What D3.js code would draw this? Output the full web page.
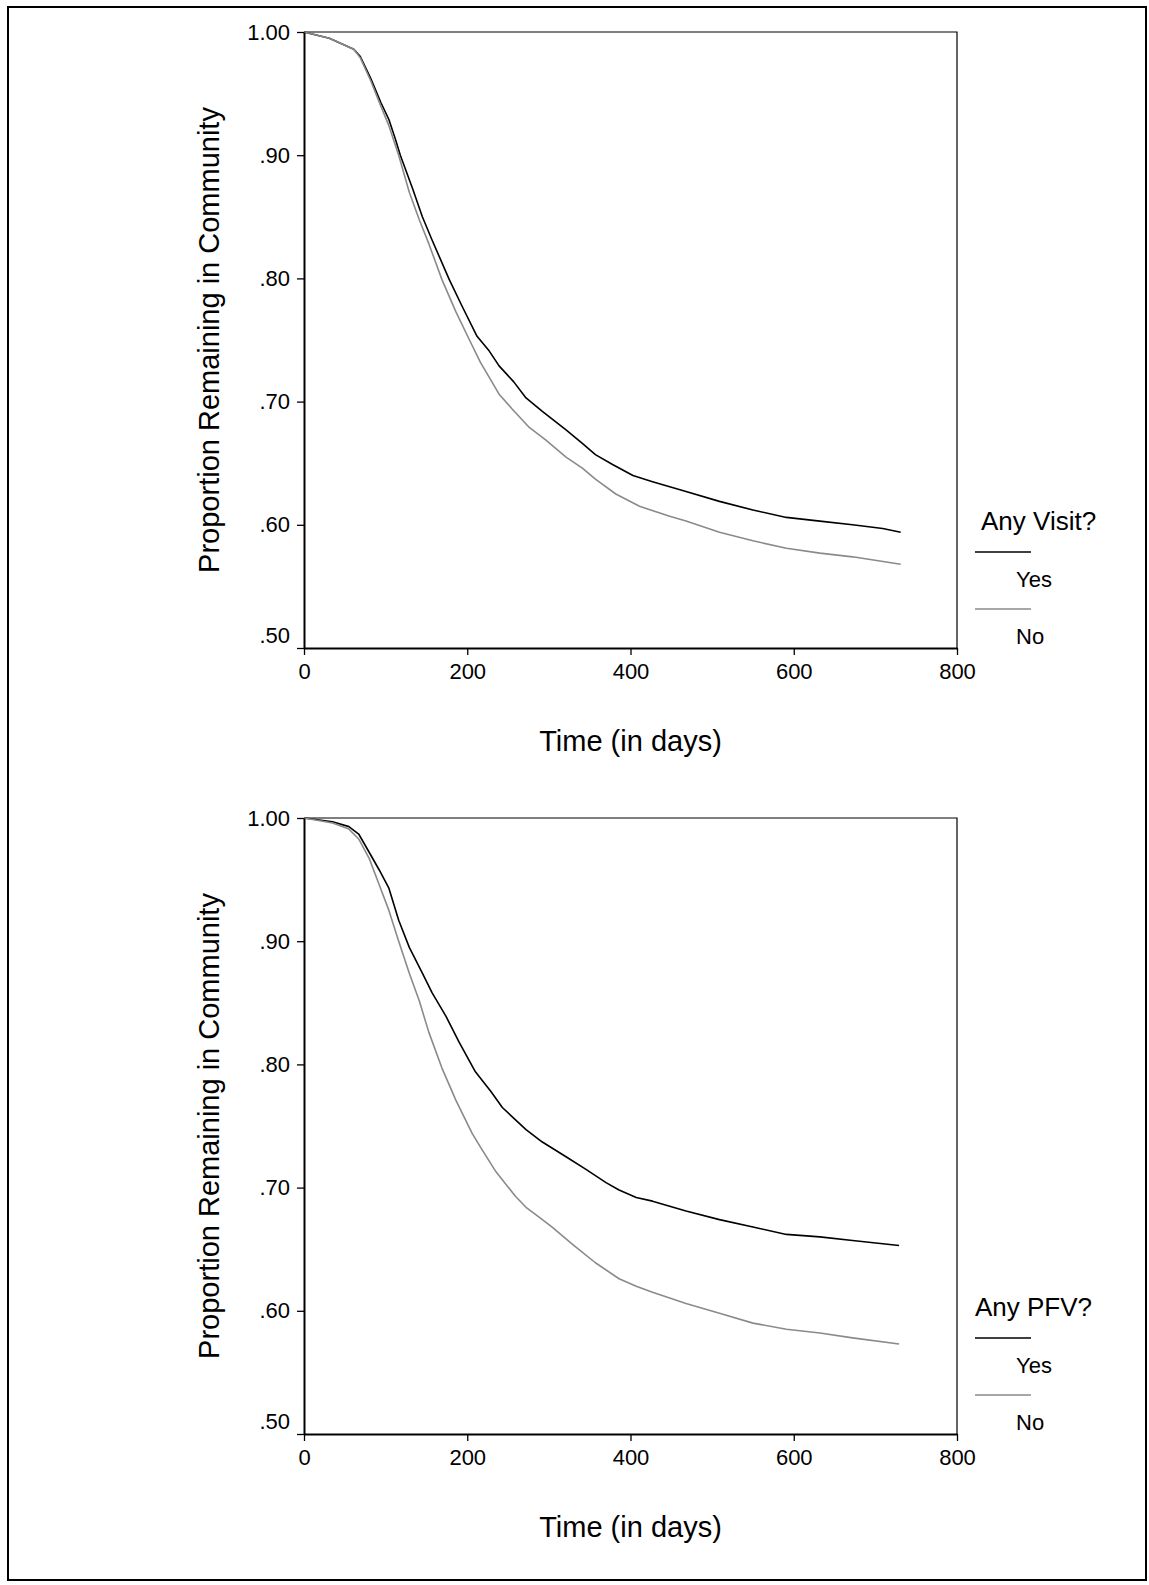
<!DOCTYPE html>
<html>
<head>
<meta charset="utf-8">
<script src="https://cdn.jsdelivr.net/npm/d3@7"></script>
<style>
  body { margin: 0; background: #fff; }
  svg { display: block; font-family: "Liberation Sans", Arial, sans-serif; }
  .line { fill: none; stroke-width: 1.6px; stroke-linejoin: round; }
  .axis path, .axis line { stroke: #000; }
  .axis text { font-size: 22px; fill: #000; font-family: "Liberation Sans", Arial, sans-serif; }
</style>
</head>
<body>
<script>

// tick labels
var xTicks = [0, 200, 400, 600, 800];
var yTicks = [0.5, 0.6, 0.7, 0.8, 0.9, 1.0];
var xTitle = "Time (in days)";
var yTitle = "Proportion Remaining in Community";
var groupLabels = ["Yes", "No"];

// panel 1 : Any Visit?
var visitTitle = "Any Visit?";
var visitYesDays = [0, 31, 61, 69, 82, 94, 104, 112, 118, 133, 145, 157, 178, 194, 212, 227, 239, 257, 272, 292, 321, 341, 357, 378, 403, 427, 468, 509, 550, 591, 632, 672, 709, 731];
var visitYes     = [1.000, .995, .986, .980, .962, .943, .929, .913, .900, .873, .850, .831, .799, .777, .753, .741, .729, .716, .703, .692, .677, .666, .657, .649, .640, .635, .627, .619, .612, .606, .603, .600, .597, .594];
var visitNoDays  = [0, 31, 61, 69, 82, 94, 104, 116, 129, 141, 153, 169, 186, 202, 216, 239, 255, 276, 296, 321, 341, 357, 382, 411, 448, 468, 509, 550, 591, 632, 672, 731];
var visitNo      = [1.000, .995, .986, .979, .960, .940, .924, .900, .870, .848, .828, .799, .773, .751, .732, .706, .694, .679, .669, .655, .646, .637, .625, .615, .607, .603, .594, .587, .581, .577, .574, .568];

// panel 2 : Any PFV?
var pfvTitle = "Any PFV?";
var pfvYesDays = [0, 35, 55, 67, 80, 92, 104, 116, 129, 145, 157, 174, 190, 210, 229, 243, 272, 292, 321, 345, 370, 386, 407, 427, 468, 509, 550, 591, 632, 672, 729];
var pfvYes     = [1.000, .997, .993, .987, .972, .958, .943, .917, .895, .874, .858, .839, .818, .794, .778, .765, .747, .737, .725, .715, .704, .698, .692, .689, .681, .674, .668, .662, .660, .657, .653];
var pfvNoDays  = [0, 35, 55, 67, 80, 92, 104, 116, 129, 141, 153, 169, 186, 206, 216, 235, 259, 272, 288, 304, 329, 357, 386, 407, 427, 468, 509, 550, 591, 632, 672, 729];
var pfvNo      = [1.000, .996, .991, .983, .967, .946, .925, .900, .874, .852, .826, .797, .771, .744, .733, .713, .693, .684, .676, .668, .654, .639, .626, .620, .615, .606, .598, .590, .585, .582, .578, .573];

var colors = ["#000000", "#8a8a8a"];

var W = 1149, H = 1585;
var margin = { top: 32, left: 304 },
    width = 653,
    height = 616,
    panelStep = 786;

var svg = d3.select("body").append("svg")
    .attr("width", W)
    .attr("height", H);

// outer frame
svg.append("rect")
    .attr("x", 8).attr("y", 7)
    .attr("width", 1138).attr("height", 1573)
    .attr("fill", "none")
    .attr("stroke", "#000")
    .attr("stroke-width", 2);

// set the ranges
var x = d3.scaleLinear().domain([0, 800]).range([0, width]);
var y = d3.scaleLinear().domain([0.5, 1.0]).range([height, 0]);

var valueline = d3.line()
    .x(function(d) { return x(d.day); })
    .y(function(d) { return y(d.p); });

function zip(days, vals) {
  return days.map(function(d, i) { return { day: d, p: vals[i] }; });
}

var yFormat = function(d) {
  return d === 1 ? "1.00" : d3.format(".2f")(d).replace(/^0/, "");
};

function drawPanel(offset, title, titleX, series) {
  var g = svg.append("g")
      .attr("transform", "translate(" + margin.left + "," + (margin.top + offset) + ")");

  // top and right of the frame
  g.append("path")
      .attr("d", "M0,0H" + width + "V" + height)
      .attr("fill", "none")
      .attr("stroke", "#000")
      .attr("stroke-width", 1.2);

  // curves
  series.forEach(function(s, i) {
    g.append("path")
        .data([s])
        .attr("class", "line")
        .style("stroke", colors[i])
        .attr("d", valueline);
  });

  // X axis
  var xa = g.append("g")
      .attr("class", "axis")
      .attr("transform", "translate(0," + height + ")")
      .call(d3.axisBottom(x).tickValues(xTicks).tickSize(7).tickPadding(8).tickSizeOuter(0));
  xa.select(".domain").attr("stroke-width", 2);
  xa.selectAll(".tick line").attr("stroke-width", 1.3);

  // Y axis
  var ya = g.append("g")
      .attr("class", "axis")
      .call(d3.axisLeft(y).tickValues(yTicks).tickFormat(yFormat).tickSize(7).tickPadding(7).tickSizeOuter(0));
  ya.select(".domain").attr("stroke-width", 2);
  ya.selectAll(".tick line").attr("stroke-width", 1.3);
  ya.selectAll(".tick text")
      .filter(function(d) { return d === 0.5; })
      .attr("dy", "-0.27em");

  // axis titles
  g.append("text")
      .attr("x", width / 2)
      .attr("y", height + 103)
      .attr("text-anchor", "middle")
      .style("font-size", "29px")
      .text(xTitle);

  g.append("text")
      .attr("transform", "translate(" + (219 - margin.left) + "," + (height / 2) + ") rotate(-90)")
      .attr("text-anchor", "middle")
      .style("font-size", "29px")
      .text(yTitle);

  // legend
  var lg = g.append("g").attr("transform", "translate(" + width + ",0)");
  lg.append("text")
      .attr("x", titleX)
      .attr("y", 498)
      .style("font-size", "26px")
      .text(title);

  groupLabels.forEach(function(lab, i) {
    var ly = 520 + i * 57;
    lg.append("line")
        .attr("x1", 18).attr("x2", 74)
        .attr("y1", ly).attr("y2", ly)
        .attr("stroke", colors[i])
        .attr("stroke-width", 1.6);
    lg.append("text")
        .attr("x", 59)
        .attr("y", ly + 35)
        .style("font-size", "22px")
        .text(lab);
  });
}

drawPanel(0, visitTitle, 24, [zip(visitYesDays, visitYes), zip(visitNoDays, visitNo)]);
drawPanel(panelStep, pfvTitle, 18, [zip(pfvYesDays, pfvYes), zip(pfvNoDays, pfvNo)]);

</script>
</body>
</html>
